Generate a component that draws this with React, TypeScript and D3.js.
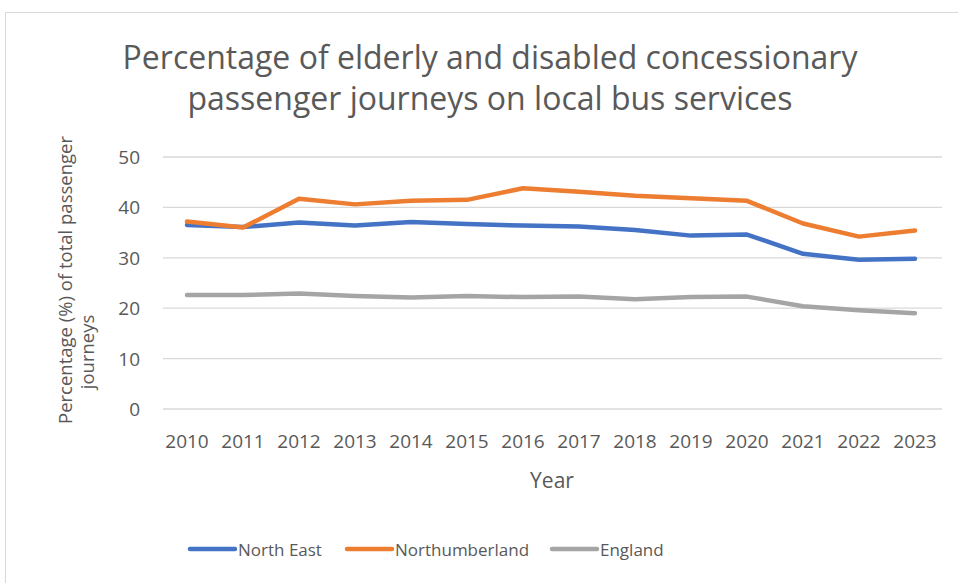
import React from "react";
import * as d3 from "d3";

const years = ["2010","2011","2012","2013","2014","2015","2016","2017","2018","2019","2020","2021","2022","2023"];
const northEast = [36.5, 36.1, 37.0, 36.4, 37.1, 36.7, 36.4, 36.2, 35.5, 34.4, 34.6, 30.8, 29.6, 29.8];
const northumberland = [37.2, 36.0, 41.7, 40.6, 41.3, 41.5, 43.8, 43.1, 42.3, 41.8, 41.3, 36.8, 34.2, 35.4];
const england = [22.6, 22.6, 22.9, 22.4, 22.1, 22.4, 22.2, 22.3, 21.8, 22.2, 22.3, 20.4, 19.6, 19.0];
const yTicks = [0, 10, 20, 30, 40, 50];
const seriesNames = ["North East", "Northumberland", "England"];
const seriesColors = ["#4472C4", "#ED7D31", "#A5A5A5"];
const titleLines = ["Percentage of elderly and disabled concessionary", "passenger journeys on local bus services"];
const yTitleLines = ["Percentage (%) of total passenger", "journeys"];
const xTitle = "Year";

const W = 958, H = 583;
const FONT = "'Open Sans', sans-serif";
const TXT = "#595959";

export default function App() {
  const series = [northEast, northumberland, england];
  const x = d3.scaleBand().domain(years).range([159, 943]);
  const y = d3.scaleLinear().domain([0, 50]).range([409, 157]);
  const line = d3.line<number>()
    .x((_, i) => (x(years[i]) as number) + x.bandwidth() / 2)
    .y((d) => y(d));
  const legendX = [190, 347, 552];
  const yTitlePos = [[72, 280], [94, 352]];
  return (
    <svg width={W} height={H} style={{ position: "absolute", left: 0, top: 0 }}>
      <rect x={0} y={0} width={W} height={H} fill="#fff" />
      <rect x={5.5} y={12.5} width={W + 10} height={H + 10} fill="#fff" stroke="#D9D9D9" strokeWidth={1} />
      {titleLines.map((t, i) => (
        <text key={t} x={490} y={69 + i * 41} textAnchor="middle" fontFamily={FONT} fontSize={32} fill={TXT}>{t}</text>
      ))}
      {yTicks.map((t) => (
        <g key={t}>
          <line x1={163} x2={942} y1={y(t)} y2={y(t)} stroke="#D9D9D9" strokeWidth={1.3} />
          <text x={140} y={y(t) + 7} textAnchor="end" fontFamily={FONT} fontSize={19} fill={TXT}>{t}</text>
        </g>
      ))}
      {years.map((yr) => (
        <text key={yr} x={(x(yr) as number) + x.bandwidth() / 2} y={448} textAnchor="middle" fontFamily={FONT} fontSize={19} fill={TXT}>{yr}</text>
      ))}
      <text x={552} y={488} textAnchor="middle" fontFamily={FONT} fontSize={21} fill={TXT}>{xTitle}</text>
      {yTitleLines.map((t, i) => (
        <text key={t} transform={`translate(${yTitlePos[i][0]},${yTitlePos[i][1]}) rotate(-90)`} textAnchor="middle" fontFamily={FONT} fontSize={18.5} fill={TXT}>{t}</text>
      ))}
      {series.map((s, i) => (
        <path key={i} d={line(s) as string} fill="none" stroke={seriesColors[i]} strokeWidth={4.5} strokeLinecap="round" strokeLinejoin="round" />
      ))}
      {seriesNames.map((n, i) => (
        <g key={n}>
          <line x1={legendX[i]} x2={legendX[i] + 45} y1={549} y2={549} stroke={seriesColors[i]} strokeWidth={4.5} strokeLinecap="round" />
          <text x={legendX[i] + 48} y={556} fontFamily={FONT} fontSize={17} fill={TXT}>{n}</text>
        </g>
      ))}
    </svg>
  );
}
